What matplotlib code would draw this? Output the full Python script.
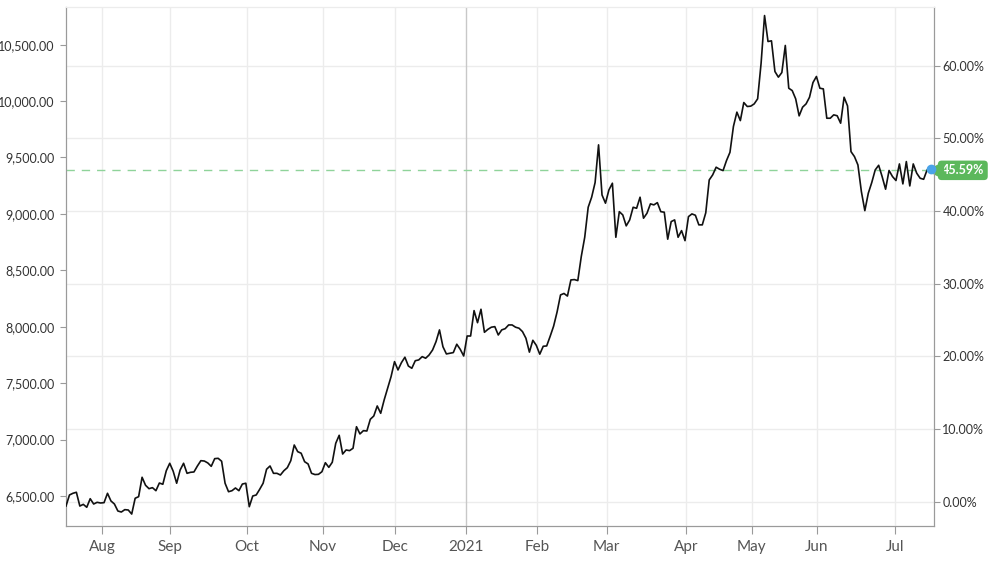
import numpy as np
import matplotlib
matplotlib.use('Agg')
import matplotlib.pyplot as plt
from matplotlib.ticker import FuncFormatter, FixedLocator
import matplotlib.transforms as mtransforms

plt.rcParams['font.family'] = ['Lato', 'DejaVu Sans']

# index level, one value per trading session
values = [
    6411, 6509, 6524, 6533, 6411, 6426, 6400, 6476, 6429, 6444,
    6438, 6441, 6524, 6456, 6429, 6367, 6358, 6379, 6376, 6340,
    6480, 6494, 6666, 6595, 6565, 6574, 6547, 6615, 6604, 6724,
    6790, 6719, 6613, 6730, 6790, 6701, 6710, 6713, 6766, 6813,
    6810, 6793, 6763, 6831, 6834, 6808, 6613, 6538, 6547, 6571,
    6547, 6606, 6613, 6405, 6500, 6509, 6559, 6613, 6737, 6766,
    6701, 6701, 6686, 6724, 6751, 6813, 6952, 6893, 6879, 6804,
    6784, 6701, 6690, 6692, 6715, 6795, 6754, 6799, 6967, 7038,
    6872, 6908, 6902, 6923, 7114, 7050, 7079, 7076, 7180, 7209,
    7298, 7233, 7351, 7455, 7558, 7691, 7617, 7682, 7730, 7652,
    7632, 7699, 7706, 7735, 7721, 7750, 7794, 7868, 7972, 7823,
    7759, 7765, 7771, 7845, 7800, 7741, 7918, 7918, 8143, 8036,
    8155, 7951, 7977, 7996, 8001, 7927, 7972, 7983, 8016, 8016,
    7996, 7987, 7957, 7898, 7775, 7880, 7835, 7757, 7827, 7830,
    7915, 8005, 8130, 8282, 8295, 8272, 8415, 8418, 8409, 8622,
    8793, 9059, 9148, 9278, 9612, 9168, 9095, 9213, 9272, 8793,
    9020, 8991, 8894, 8947, 9059, 9050, 9148, 8962, 9006, 9089,
    9080, 9100, 9020, 9015, 8776, 8932, 8947, 8793, 8852, 8763,
    8976, 9000, 8988, 8903, 8903, 9010, 9301, 9346, 9414, 9396,
    9384, 9473, 9546, 9775, 9902, 9827, 9987, 9952, 9955, 9975,
    10020, 10335, 10758, 10528, 10534, 10262, 10212, 10253, 10493, 10114,
    10093, 10020, 9869, 9946, 9975, 10034, 10164, 10218, 10114, 10108,
    9848, 9848, 9878, 9870, 9804, 10034, 9957, 9552, 9508, 9434,
    9198, 9029, 9183, 9278, 9390, 9431, 9331, 9219, 9385, 9331,
    9296, 9443, 9266, 9464, 9248, 9443, 9361, 9316, 9307, 9390,
    9396,
]
base_value = 6447
current_pct = 45.59

month_labels = ['Aug', 'Sep', 'Oct', 'Nov', 'Dec', '2021', 'Feb', 'Mar', 'Apr', 'May', 'Jun', 'Jul']
month_pos = [10.4, 30.1, 52.3, 74.3, 95.1, 115.6, 136.3, 156.3, 179.2, 198.3, 217.2, 239.7]
left_ticks = [6500, 7000, 7500, 8000, 8500, 9000, 9500, 10000, 10500]
right_ticks = [0, 10, 20, 30, 40, 50, 60]

x = np.arange(len(values))
ymin, ymax = 6234, 10835

fig = plt.figure(figsize=(10, 5.82), dpi=100)
ax = fig.add_axes([0.066, 0.0962, 0.868, 0.892])
ax2 = ax.twinx()
ax.set_zorder(ax2.get_zorder() + 1)
ax.patch.set_visible(False)

ax.set_xlim(0, len(values))
ax.set_ylim(ymin, ymax)
ax2.set_ylim((ymin / base_value - 1) * 100, (ymax / base_value - 1) * 100)

# grid
ax2.yaxis.set_major_locator(FixedLocator(right_ticks))
ax2.grid(True, axis='y', color='#ececec', linewidth=1)
ax2.set_axisbelow(True)
ax.xaxis.set_major_locator(FixedLocator(month_pos))
ax.set_xticklabels(month_labels)
for p, lab in zip(month_pos, month_labels):
    ax.axvline(p, color='#c8c8c8' if lab == '2021' else '#ececec', linewidth=1, zorder=0)

ax.plot(x, values, color='#111111', linewidth=1.2, zorder=3)

current_value = base_value * (1 + current_pct / 100)
ax.axhline(current_value, color='#8fd39a', linewidth=1, linestyle=(0, (6, 5)), zorder=2)

# spines
for a in (ax, ax2):
    a.spines['top'].set_color('#ececec')
    a.spines['left'].set_color('#9a9a9a')
    a.spines['right'].set_color('#9a9a9a')
    a.spines['bottom'].set_color('#9a9a9a')

ax.yaxis.set_major_locator(FixedLocator(left_ticks))
ax.yaxis.set_major_formatter(FuncFormatter(lambda v, p: f'{v:,.2f}'))
ax2.yaxis.set_major_formatter(FuncFormatter(lambda v, p: f'{v:.2f}%'))

ax.tick_params(axis='y', length=4, color='#9a9a9a', labelcolor='#333333', labelsize=9, pad=4)
ax.tick_params(axis='x', length=6, color='#9a9a9a', labelcolor='#555555', labelsize=11, pad=4)
ax2.tick_params(axis='y', length=4, color='#9a9a9a', labelcolor='#333333', labelsize=9, pad=2)

# current value badge: rounded green box with a small pointer on the left
trans = mtransforms.blended_transform_factory(ax2.transAxes, ax2.transData)
green = '#5cb85c'
ax2.text(1.0, current_pct, f'{current_pct:.2f}%',
         transform=trans + mtransforms.ScaledTranslation(5.5 / 72, 0, fig.dpi_scale_trans),
         ha='left', va='center', color='white', fontsize=9, fontweight='bold',
         clip_on=False, zorder=5,
         bbox=dict(boxstyle='round,pad=0.3,rounding_size=0.3', fc=green, ec='none'))
ax2.plot([1.0], [current_pct], marker='<', markersize=11, color=green,
         transform=trans + mtransforms.ScaledTranslation(0.5 / 72, 0, fig.dpi_scale_trans),
         clip_on=False, zorder=5)
ax.plot([x[-1]], [values[-1]], 'o', color='#4aa3e8', markersize=6, clip_on=False, zorder=6)

fig.savefig('out.png', dpi=100)
